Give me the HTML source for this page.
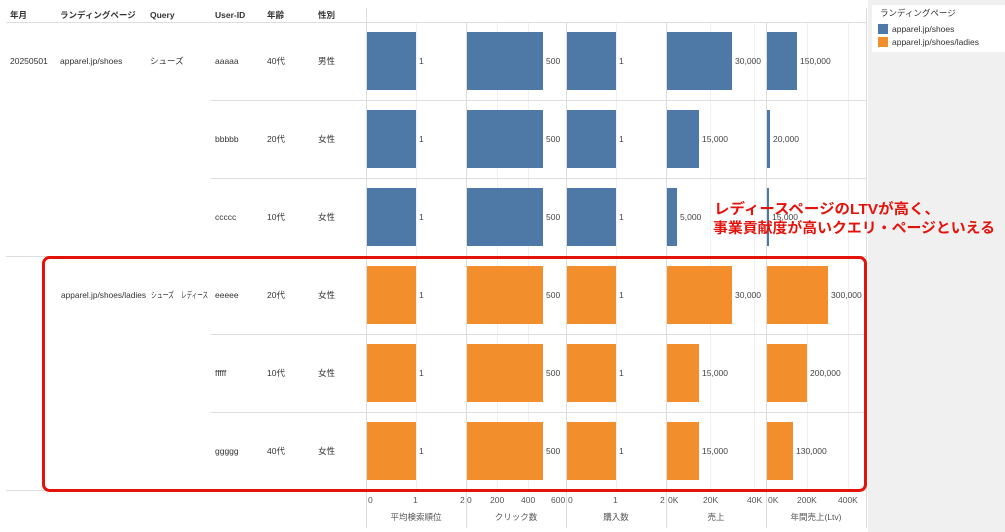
<!DOCTYPE html>
<html><head><meta charset="utf-8"><style>
html,body{margin:0;padding:0;background:#fff;}
svg{display:block;font-family:"Liberation Sans","Noto Sans CJK JP",sans-serif;}
.t{font-size:8.5px;fill:#333;}
.h{font-size:8.5px;fill:#333;font-weight:bold;}
.v{font-size:8.5px;fill:#444;}
.ax{font-size:8.5px;fill:#555;}
</style></head><body>
<svg width="1005" height="532" viewBox="0 0 1005 532">
<rect x="868" y="0" width="137" height="532" fill="#f0f0f0"/>
<rect x="872" y="5" width="133" height="47" fill="#fff"/>
<text class="t" x="880" y="16" fill="#555">ランディングページ</text>
<rect x="878" y="24" width="10" height="10" fill="#4e79a7"/>
<text class="t" x="892" y="32">apparel.jp/shoes</text>
<rect x="878" y="37" width="10" height="10" fill="#f28e2b"/>
<text class="t" x="892" y="45">apparel.jp/shoes/ladies</text>

<g stroke="#f0f0f0" stroke-width="1">
<line x1="416.5" y1="22" x2="416.5" y2="490"/>
<line x1="497.5" y1="22" x2="497.5" y2="490"/>
<line x1="528.5" y1="22" x2="528.5" y2="490"/>
<line x1="616.5" y1="22" x2="616.5" y2="490"/>
<line x1="710.5" y1="22" x2="710.5" y2="490"/>
<line x1="754.5" y1="22" x2="754.5" y2="490"/>
<line x1="807.5" y1="22" x2="807.5" y2="490"/>
<line x1="848.5" y1="22" x2="848.5" y2="490"/>
</g>
<g stroke="#ddd" stroke-width="1">
<line x1="6" y1="22.5" x2="866" y2="22.5"/>
<line x1="211" y1="100.5" x2="866" y2="100.5"/>
<line x1="211" y1="178.5" x2="866" y2="178.5"/>
<line x1="6" y1="256.5" x2="866" y2="256.5"/>
<line x1="211" y1="334.5" x2="866" y2="334.5"/>
<line x1="211" y1="412.5" x2="866" y2="412.5"/>
<line x1="6" y1="490.5" x2="866" y2="490.5"/>
<line x1="366.5" y1="8" x2="366.5" y2="528"/>
<line x1="466.5" y1="22" x2="466.5" y2="528"/>
<line x1="566.5" y1="22" x2="566.5" y2="528"/>
<line x1="666.5" y1="22" x2="666.5" y2="528"/>
<line x1="766.5" y1="22" x2="766.5" y2="528"/>
<line x1="866.5" y1="8" x2="866.5" y2="528"/>
</g>

<text class="h" x="10" y="18">年月</text>
<text class="h" x="60" y="18">ランディングページ</text>
<text class="h" x="150" y="18">Query</text>
<text class="h" x="215" y="18">User-ID</text>
<text class="h" x="267" y="18">年齢</text>
<text class="h" x="318" y="18">性別</text>

<text class="t" x="10" y="64">20250501</text>
<text class="t" x="60" y="64">apparel.jp/shoes</text>
<text class="t" x="150" y="64">シューズ</text>
<text class="t" x="61" y="298" textLength="85" lengthAdjust="spacingAndGlyphs">apparel.jp/shoes/ladies</text>
<text class="t" x="151" y="298" textLength="23" lengthAdjust="spacingAndGlyphs">シューズ</text>
<text class="t" x="181" y="298" textLength="27" lengthAdjust="spacingAndGlyphs">レディース</text>

<g class="t">
<text x="215" y="64">aaaaa</text><text x="267" y="64">40代</text><text x="318" y="64">男性</text>
<text x="215" y="142">bbbbb</text><text x="267" y="142">20代</text><text x="318" y="142">女性</text>
<text x="215" y="220">ccccc</text><text x="267" y="220">10代</text><text x="318" y="220">女性</text>
<text x="215" y="298">eeeee</text><text x="267" y="298">20代</text><text x="318" y="298">女性</text>
<text x="215" y="376">fffff</text><text x="267" y="376">10代</text><text x="318" y="376">女性</text>
<text x="215" y="454">ggggg</text><text x="267" y="454">40代</text><text x="318" y="454">女性</text>
</g>

<g fill="#4e79a7">
<rect x="367" y="32" width="49" height="58"/><rect x="467" y="32" width="76" height="58"/><rect x="567" y="32" width="49" height="58"/><rect x="667" y="32" width="65" height="58"/><rect x="767" y="32" width="30" height="58"/>
<rect x="367" y="110" width="49" height="58"/><rect x="467" y="110" width="76" height="58"/><rect x="567" y="110" width="49" height="58"/><rect x="667" y="110" width="32" height="58"/><rect x="767" y="110" width="3" height="58"/>
<rect x="367" y="188" width="49" height="58"/><rect x="467" y="188" width="76" height="58"/><rect x="567" y="188" width="49" height="58"/><rect x="667" y="188" width="10" height="58"/><rect x="767" y="188" width="2" height="58"/>
</g>
<g fill="#f28e2b">
<rect x="367" y="266" width="49" height="58"/><rect x="467" y="266" width="76" height="58"/><rect x="567" y="266" width="49" height="58"/><rect x="667" y="266" width="65" height="58"/><rect x="767" y="266" width="61" height="58"/>
<rect x="367" y="344" width="49" height="58"/><rect x="467" y="344" width="76" height="58"/><rect x="567" y="344" width="49" height="58"/><rect x="667" y="344" width="32" height="58"/><rect x="767" y="344" width="40" height="58"/>
<rect x="367" y="422" width="49" height="58"/><rect x="467" y="422" width="76" height="58"/><rect x="567" y="422" width="49" height="58"/><rect x="667" y="422" width="32" height="58"/><rect x="767" y="422" width="26" height="58"/>
</g>
<g class="v">
<text x="419" y="64">1</text><text x="546" y="64">500</text><text x="619" y="64">1</text><text x="735" y="64">30,000</text><text x="800" y="64">150,000</text>
<text x="419" y="142">1</text><text x="546" y="142">500</text><text x="619" y="142">1</text><text x="702" y="142">15,000</text><text x="773" y="142">20,000</text>
<text x="419" y="220">1</text><text x="546" y="220">500</text><text x="619" y="220">1</text><text x="680" y="220">5,000</text><text x="772" y="220">15,000</text>
<text x="419" y="298">1</text><text x="546" y="298">500</text><text x="619" y="298">1</text><text x="735" y="298">30,000</text><text x="831" y="298">300,000</text>
<text x="419" y="376">1</text><text x="546" y="376">500</text><text x="619" y="376">1</text><text x="702" y="376">15,000</text><text x="810" y="376">200,000</text>
<text x="419" y="454">1</text><text x="546" y="454">500</text><text x="619" y="454">1</text><text x="702" y="454">15,000</text><text x="796" y="454">130,000</text>
</g>

<g class="ax">
<text x="368" y="503">0</text><text x="413" y="503">1</text><text x="460" y="503">2</text>
<text x="467" y="503">0</text><text x="490" y="503">200</text><text x="521" y="503">400</text><text x="551" y="503">600</text>
<text x="568" y="503">0</text><text x="613" y="503">1</text><text x="660" y="503">2</text>
<text x="668" y="503">0K</text><text x="703" y="503">20K</text><text x="747" y="503">40K</text>
<text x="768" y="503">0K</text><text x="797" y="503">200K</text><text x="838" y="503">400K</text>
</g>
<g class="ax" text-anchor="middle">
<text x="416" y="520">平均検索順位</text>
<text x="516" y="520">クリック数</text>
<text x="616" y="520">購入数</text>
<text x="716" y="520">売上</text>
<text x="816" y="520">年間売上(Ltv)</text>
</g>

<rect x="43.5" y="257.5" width="822" height="233" rx="6" ry="6" fill="none" stroke="#e3120b" stroke-width="3"/>
<g font-weight="bold" font-size="14.5" fill="#e3120b">
<text x="714" y="214" textLength="226" lengthAdjust="spacingAndGlyphs">レディースページのLTVが高く、</text>
<text x="713" y="233" textLength="282" lengthAdjust="spacingAndGlyphs">事業貢献度が高いクエリ・ページといえる</text>
</g>
</svg>
</body></html>
